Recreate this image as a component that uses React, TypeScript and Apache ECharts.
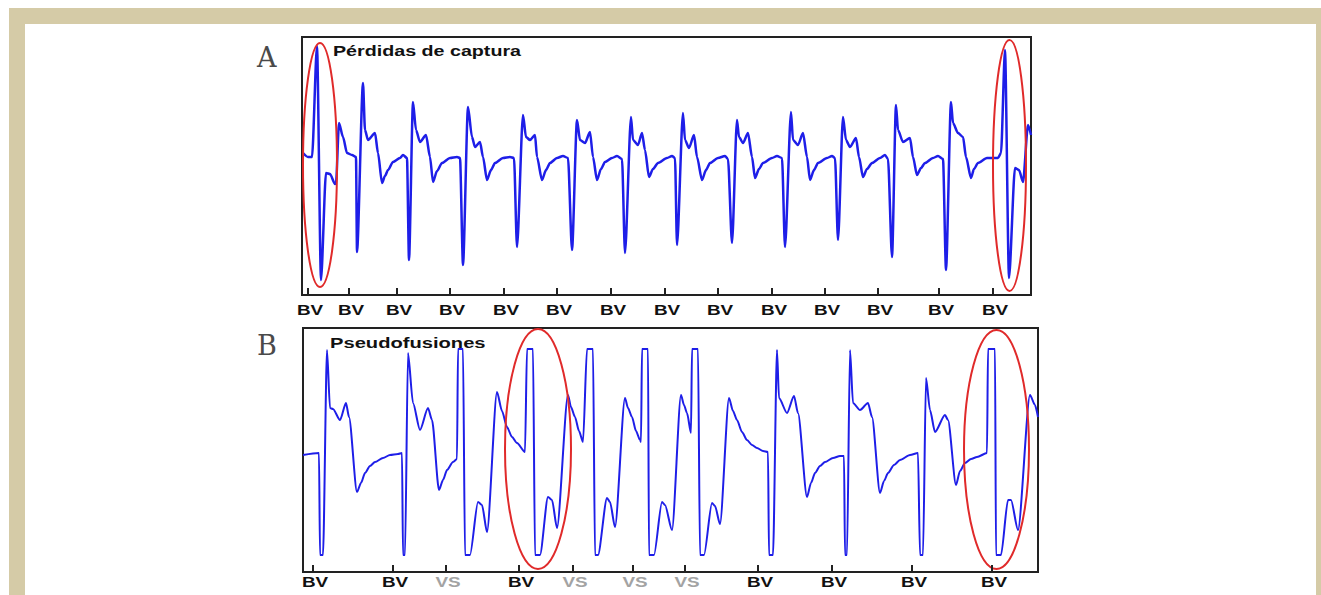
import { useEffect, useRef } from "react";
import * as echarts from "echarts";

// Panel A – "Pérdidas de captura": [time, amplitude]
const traceA: number[][] = [
  [1, 4], [6, 0], [10, 0], [15, 111], [19, -123], [24, -16], [28, -17], [33, -27],
  [34, -26], [37, 34], [41, 20], [45, 4], [50, 2], [54, 0], [55, -95], [61, 74],
  [63, 27], [66, 17], [73, 24], [76, 4], [80, -26], [83, -19], [86, -13], [91, -5], [98, -1],
  [101, 2], [105, -1], [107, -103], [111, 55], [114, 27], [118, 15], [124, 22], [128, 0],
  [131, -25], [135, -14], [140, -6], [148, -1], [155, 0], [158, -1], [161, -108], [166, 50], [170, 20],
  [173, 10], [178, 15], [181, 0], [185, -23], [189, -13], [193, -6], [201, -1], [208, 0], [212, -1],
  [215, -90], [221, 42], [224, 20], [228, 17], [233, 22], [235, 0], [240, -23], [244, -13], [248, -6],
  [255, -1], [261, 1], [266, -1], [270, -93], [275, 37], [278, 17], [283, 14], [288, 25],
  [291, 0], [295, -23], [299, -12], [303, -5], [310, -1], [315, 1], [320, -2], [323, -96], [329, 40],
  [331, 17], [336, 12], [340, 24], [343, 7], [347, -20], [351, -12], [356, -6], [365, -1], [370, 1],
  [373, -1], [375, -88], [381, 44], [383, 17], [387, 9], [392, 22], [395, 0], [400, -23],
  [404, -13], [408, -6], [416, -1], [423, 1], [426, -2], [430, -86], [435, 37], [437, 20], [441, 14],
  [446, 24], [450, 0], [453, -21], [457, -12], [461, -6], [470, -1], [475, 1], [480, -1], [483, -90],
  [489, 45], [491, 17], [496, 12], [501, 24], [505, 0], [508, -23], [512, -13], [516, -6], [525, -1],
  [530, 1], [533, -1], [536, -83], [541, 40], [544, 17], [548, 10], [554, 19], [557, 0],
  [561, -20], [565, -12], [570, -6], [578, -1], [583, 2], [586, -2], [590, -100], [594, 52], [596, 27],
  [601, 15], [608, 19], [611, 0], [615, -18], [619, -11], [623, -6], [631, -1], [636, 1], [641, -2],
  [644, -113], [649, 55], [651, 34], [656, 24], [661, 20], [664, 0], [669, -21], [672, -12], [676, -6],
  [685, -1], [696, -1], [699, 4], [703, 107], [707, -121], [713, -11], [717, -13], [721, -25],
  [726, 32], [729, 22],
];

// Panel B – "Pseudofusiones": [time, amplitude]
const traceB: number[][] = [
  [0, -2], [16, 0], [17, -102], [20, -102], [24, 103], [27, 45], [30, 44], [37, 33],
  [43, 50], [46, 36], [54, -39], [58, -30], [62, -20], [67, -13], [72, -9], [80, -5], [87, -2],
  [95, -1], [99, 0], [100, -102],
  [102, -102], [105, 100], [110, 50], [117, 23], [125, 45], [129, 33], [136, -37], [140, -27],
  [144, -17], [150, -9], [154, -6], [155, 104], [160, 104], [162, -102], [167, -102], [175, -49],
  [179, -52], [184, -79], [194, 61], [199, 42], [204, 26], [209, 16], [214, 10], [222, 1],
  [224, 104], [230, 104], [232, -102],
  [237, -102], [245, -44], [249, -47], [254, -75], [265, 58], [268, 46], [272, 36], [276, 22],
  [280, 11], [284, 104],
  [290, 104], [292, -102], [295, -102], [304, -45], [307, -49], [312, -74], [322, 55], [325, 45],
  [329, 36], [333, 22], [337, 13], [338, 11], [339, 104], [345, 104], [346, -102], [351, -102],
  [359, -49], [362, -52], [369, -77], [378, 58], [381, 48], [384, 40], [388, 20], [389, 104],
  [395, 104], [397, -102], [401, -102],
  [409, -50], [412, -53], [417, -71], [426, 55], [430, 42], [434, 33], [439, 21], [444, 13],
  [449, 8], [454, 5], [460, 2], [465, 1],
  [466, -102], [470, -102], [474, 103], [476, 55], [484, 40], [491, 57], [495, 40], [504, -44],
  [508, -30], [512, -20], [517, -13], [522, -9], [530, -5], [537, -3], [541, -3], [542, -102],
  [544, -102], [547, 103], [550, 50],
  [557, 43], [565, 50], [569, 36], [577, -40], [581, -28], [585, -20], [591, -12], [597, -7],
  [607, -2], [615, 0],
  [617, -102], [620, -102], [623, 75], [627, 43], [632, 21], [642, 38], [645, 33], [653, -32],
  [657, -18], [662, -10], [668, -6], [674, -4], [684, 0], [685, 104], [692, 104], [693, -102],
  [698, -102], [705, -47], [708, -47], [715, -77], [727, 58], [732, 48], [735, 36],
];

const ticksA = [6, 47, 95, 148, 202, 255, 309, 363, 416, 470, 523, 576, 637, 691];
const labelsA = ["BV", "BV", "BV", "BV", "BV", "BV", "BV", "BV", "BV", "BV", "BV", "BV", "BV", "BV"];
const ticksB = [10, 90, 143, 216, 270, 330, 382, 455, 529, 609, 689];
const labelsB = ["BV", "BV", "VS", "BV", "VS", "VS", "VS", "BV", "BV", "BV", "BV"];

// [centre time, centre amplitude, half-width, half-height]
const ellipsesA = [[18, -8, 17, 122], [707.5, -8.5, 16.5, 125.5]];
const ellipsesB = [[235, 4, 33, 120], [693.5, 3.5, 32.5, 119.5]];

const rangeA = { tMax: 729, ampMin: -138, ampMax: 120 };
const rangeB = { tMax: 735, ampMin: -119, ampMax: 125 };

const titleA = "Pérdidas de captura";
const titleB = "Pseudofusiones";

const BLUE = "#1e1ee8";
const RED = "#e02a2a";
const FRAME = "#222";
const BEIGE = "#d5cba7";

function markerRenderer(labels: string[], yMin: number, labelOffset: number) {
  return (params: any, api: any) => {
    const p = api.coord([api.value(0), yMin]);
    const lab = labels[params.dataIndex];
    return {
      type: "group",
      children: [
        {
          type: "line",
          shape: { x1: p[0], y1: p[1], x2: p[0], y2: p[1] - 7 },
          style: { stroke: FRAME, lineWidth: 2 },
        },
        {
          type: "text",
          x: p[0] + 2,
          y: p[1] + labelOffset,
          scaleX: 1.35,
          style: {
            text: lab,
            fill: lab === "VS" ? "#a3a3a3" : "#111",
            font: 'bold 14px "Liberation Sans", Arial, sans-serif',
            textAlign: "center",
            textVerticalAlign: "middle",
          },
        },
      ],
    };
  };
}

function ellipseRenderer(_params: any, api: any) {
  const c = api.coord([api.value(0), api.value(1)]);
  const s = api.size([api.value(2), api.value(3)]);
  return {
    type: "ellipse",
    shape: { cx: c[0], cy: c[1], rx: s[0], ry: s[1] },
    style: { fill: "transparent", stroke: RED, lineWidth: 2 },
  };
}

export default function App() {
  const ref = useRef<HTMLDivElement>(null);
  useEffect(() => {
    if (!ref.current) return;
    const chart = echarts.init(ref.current, undefined, { renderer: "svg" });
    const xAxisBase = {
      type: "value" as const,
      min: 0,
      axisLine: { show: true, onZero: false, lineStyle: { color: FRAME, width: 2 } },
      axisTick: { show: false },
      axisLabel: { show: false },
      splitLine: { show: false },
    };
    const yAxisBase = {
      type: "value" as const,
      show: false,
      splitLine: { show: false },
    };
    const lineBase = {
      type: "line" as const,
      symbol: "none",
      showSymbol: false,
      smooth: 0.25,
      smoothMonotone: "x" as const,
      z: 3,
    };
    chart.setOption({
      animation: false,
      backgroundColor: "#fff",
      grid: [
        { left: 302, top: 37, width: 729, height: 258, show: true, borderColor: FRAME, borderWidth: 2, backgroundColor: "transparent" },
        { left: 303, top: 328, width: 735, height: 244, show: true, borderColor: FRAME, borderWidth: 2, backgroundColor: "transparent" },
      ],
      xAxis: [
        { ...xAxisBase, gridIndex: 0, max: rangeA.tMax },
        { ...xAxisBase, gridIndex: 1, max: rangeB.tMax },
      ],
      yAxis: [
        { ...yAxisBase, gridIndex: 0, min: rangeA.ampMin, max: rangeA.ampMax },
        { ...yAxisBase, gridIndex: 1, min: rangeB.ampMin, max: rangeB.ampMax },
      ],
      series: [
        { ...lineBase, xAxisIndex: 0, yAxisIndex: 0, data: traceA, lineStyle: { color: BLUE, width: 2.5 } },
        { ...lineBase, xAxisIndex: 1, yAxisIndex: 1, data: traceB, lineStyle: { color: BLUE, width: 2 } },
        {
          type: "custom", xAxisIndex: 0, yAxisIndex: 0, clip: false, z: 4,
          data: ellipsesA, renderItem: ellipseRenderer,
        },
        {
          type: "custom", xAxisIndex: 1, yAxisIndex: 1, clip: false, z: 4,
          data: ellipsesB, renderItem: ellipseRenderer,
        },
        {
          type: "custom", xAxisIndex: 0, yAxisIndex: 0, clip: false, z: 5,
          data: ticksA.map((t) => [t, rangeA.ampMin]),
          renderItem: markerRenderer(labelsA, rangeA.ampMin, 15),
        },
        {
          type: "custom", xAxisIndex: 1, yAxisIndex: 1, clip: false, z: 5,
          data: ticksB.map((t) => [t, rangeB.ampMin]),
          renderItem: markerRenderer(labelsB, rangeB.ampMin, 10.5),
        },
      ],
      graphic: [
        { type: "rect", z: 1, shape: { x: 9, y: 8, width: 1312, height: 16 }, style: { fill: BEIGE } },
        { type: "rect", z: 1, shape: { x: 9, y: 8, width: 16, height: 587 }, style: { fill: BEIGE } },
        { type: "rect", z: 1, shape: { x: 1316, y: 8, width: 5, height: 587 }, style: { fill: BEIGE } },
        {
          type: "text", z: 10, x: 333, y: 50.5, scaleX: 1.27,
          style: { text: titleA, fill: "#111", font: 'bold 15.5px "Liberation Sans", Arial, sans-serif', textVerticalAlign: "middle" },
        },
        {
          type: "text", z: 10, x: 330, y: 343, scaleX: 1.3,
          style: { text: titleB, fill: "#111", font: 'bold 15.5px "Liberation Sans", Arial, sans-serif', textVerticalAlign: "middle" },
        },
        {
          type: "text", z: 10, x: 257, y: 57,
          style: { text: "A", fill: "#4a4a4a", font: '27px "DejaVu Serif", serif', textVerticalAlign: "middle" },
        },
        {
          type: "text", z: 10, x: 257, y: 345,
          style: { text: "B", fill: "#4a4a4a", font: '27px "DejaVu Serif", serif', textVerticalAlign: "middle" },
        },
      ],
    });
    return () => chart.dispose();
  }, []);
  return (
    <div
      ref={ref}
      style={{ position: "absolute", left: 0, top: 0, width: 1321, height: 595, background: "#fff" }}
    />
  );
}
